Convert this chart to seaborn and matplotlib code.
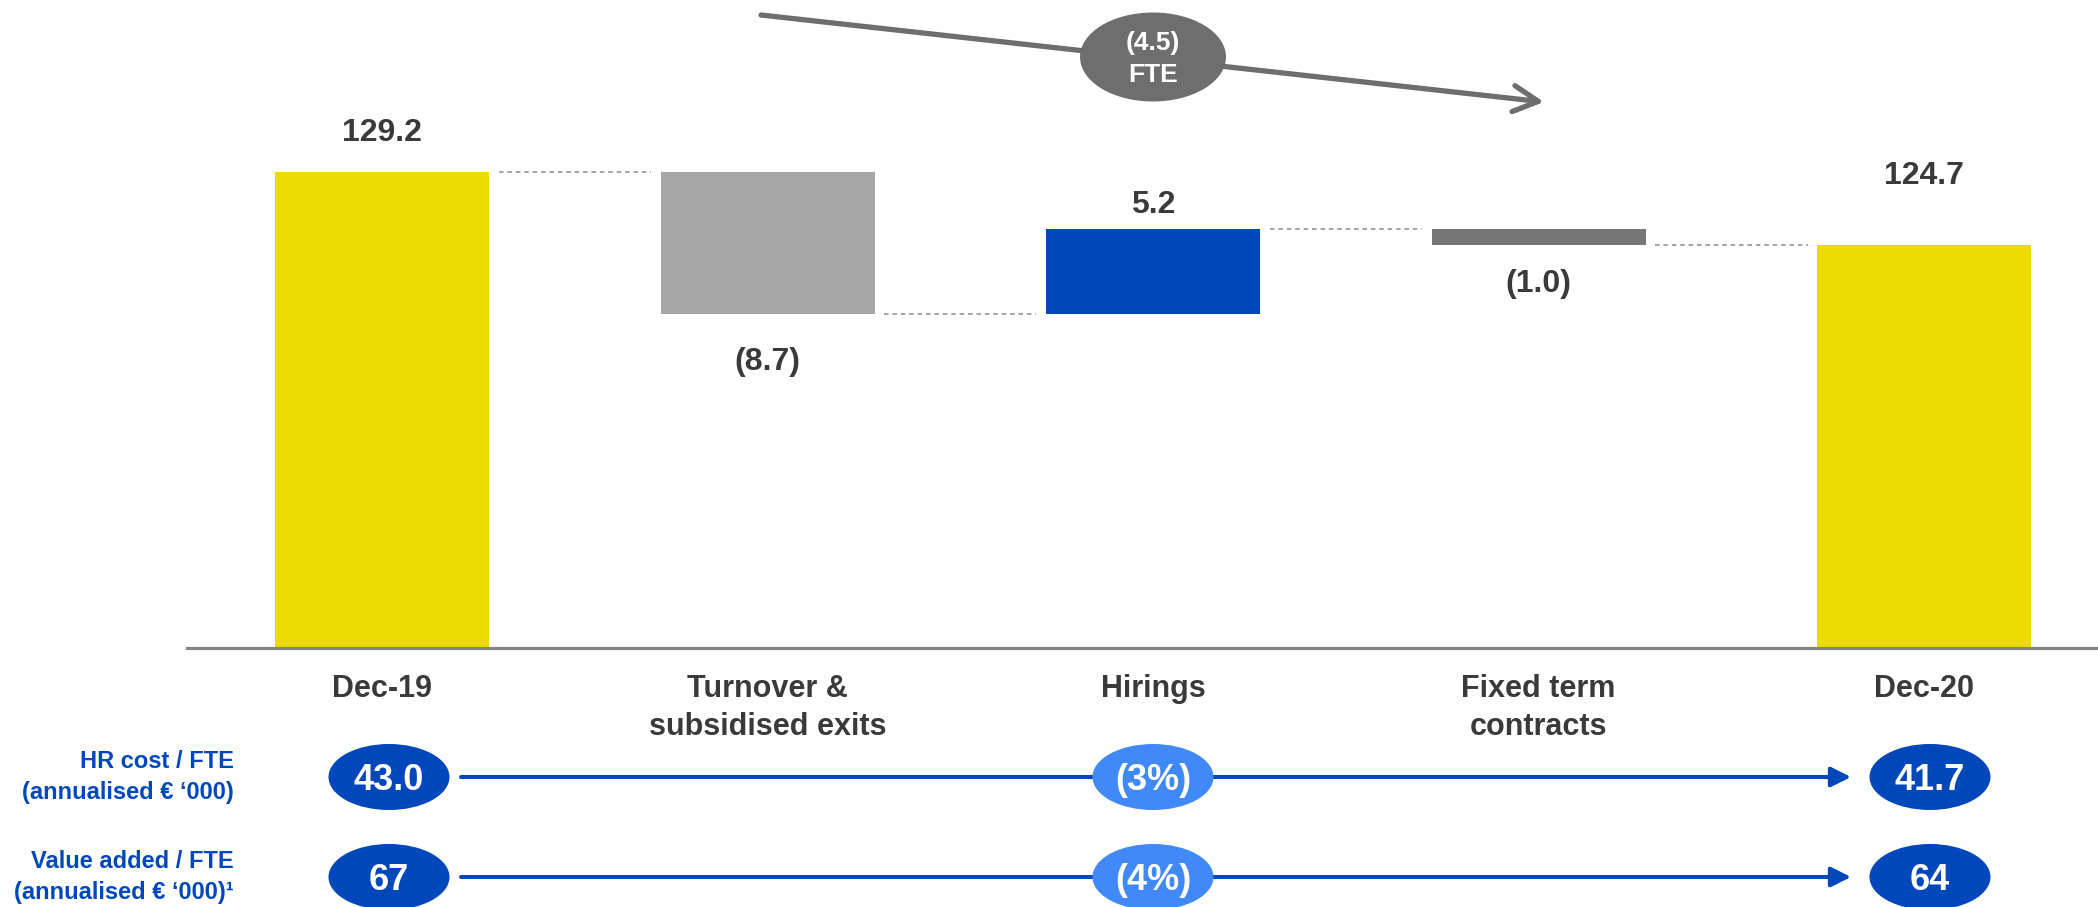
import numpy as np
import pandas as pd
import matplotlib
matplotlib.use("Agg")
import matplotlib.pyplot as plt
import seaborn as sns
from matplotlib.patches import Ellipse

# ---- data -------------------------------------------------------------
categories = ["Dec-19", "Turnover &\nsubsidised exits", "Hirings",
              "Fixed term\ncontracts", "Dec-20"]
start_fte = 129.2
deltas = [-8.7, 5.2, -1.0]
end_fte = 124.7

kpi_names = ["HR cost / FTE\n(annualised € ‘000)",
             "Value added / FTE\n(annualised € ‘000)¹"]
kpi_dec19 = [43.0, 67]
kpi_dec20 = [41.7, 64]
kpi_change_pct = [-3, -4]
kpi_decimals = [1, 0]

# ---- style ------------------------------------------------------------
bar_colors = ["#EDDB00", "#A6A6A6", "#0047BB", "#767676", "#EDDB00"]
label_gap_pt = [28, 35, 17, 28, 50]      # distance of each value label from its bar
TEXT = "#3A3A3A"
DARK_BLUE = "#0047BB"
LIGHT_BLUE = "#4189F8"
ARROW_GREY = "#6E6E6E"

sns.set_theme(style="white")
plt.rcParams["font.family"] = ["Liberation Sans", "DejaVu Sans"]
plt.rcParams["font.weight"] = "bold"

W, H = 2098, 907
fig = plt.figure(figsize=(W / 100, H / 100), dpi=100)
fig.patch.set_facecolor("white")

# ---- waterfall ----------------------------------------------------------
floor = 100.0
levels = np.concatenate([[start_fte], start_fte + np.cumsum(deltas)])
lower = [floor] + [min(a, b) for a, b in zip(levels[:-1], levels[1:])] + [floor]
upper = [start_fte] + [max(a, b) for a, b in zip(levels[:-1], levels[1:])] + [end_fte]
df = pd.DataFrame({"step": categories,
                   "height": np.array(upper) - np.array(lower)})

bar_w = 0.555
px_per_unit = 16.3
ax = fig.add_axes([187 / W, (H - 648) / H, (W - 187) / W, 648 / H])
sns.barplot(data=df, x="step", y="height", order=categories, bottom=lower,
            width=bar_w, color=bar_colors[0], saturation=1, linewidth=0,
            errorbar=None, ax=ax)
for patch, c in zip(ax.patches, bar_colors):
    patch.set_facecolor(c)
    patch.set_edgecolor("none")

ax.set_ylim(floor, floor + 648 / px_per_unit)
ax.set_xlim(-0.506, 4.451)
ax.set_xlabel("")
ax.set_ylabel("")
ax.set_yticks([])
ax.set_xticks(range(len(categories)))
ax.set_xticklabels(categories, fontsize=22, fontweight="bold", color=TEXT,
                   linespacing=1.32)
ax.tick_params(axis="x", length=0, pad=19)
for side in ("left", "top", "right"):
    ax.spines[side].set_visible(False)
ax.spines["bottom"].set_color("#858585")
ax.spines["bottom"].set_linewidth(2.3)

# value labels
values = [start_fte] + deltas + [end_fte]
for i, v in enumerate(values):
    text = f"{v:.1f}" if v >= 0 else f"({abs(v):.1f})"
    if v >= 0:
        anchor, off = upper[i], label_gap_pt[i]
    else:
        anchor, off = lower[i], -label_gap_pt[i]
    ax.annotate(text, xy=(i, anchor), xytext=(0, off),
                textcoords="offset points", ha="center", va="center",
                fontsize=23, fontweight="bold", color=TEXT)

# dashed connectors between consecutive bars
gap = 0.025
for i, lev in enumerate(levels.tolist() + [end_fte]):
    if i >= len(categories) - 1:
        break
    ax.plot([i + bar_w / 2 + gap, i + 1 - bar_w / 2 - gap], [lev, lev],
            color="#8C8C8C", lw=1.1, ls=(0, (3, 2.5)))

# ---- overlay in pixel coordinates ----------------------------------------
ov = fig.add_axes([0, 0, 1, 1], zorder=3)
ov.set_xlim(0, W)
ov.set_ylim(H, 0)
ov.axis("off")
ov.patch.set_alpha(0)

# overall change arrow
ov.annotate("", xy=(1544, 102), xytext=(761, 15),
            arrowprops=dict(arrowstyle="->,head_length=0.9,head_width=0.47",
                            color=ARROW_GREY, lw=3.8, shrinkA=0, shrinkB=0,
                            mutation_scale=20))
ov.add_patch(Ellipse((1153, 57), 146, 89, facecolor=ARROW_GREY,
                     edgecolor="none", zorder=4))
net = end_fte - start_fte
ov.text(1153, 59, f"({abs(net):.1f})\nFTE", ha="center", va="center",
        fontsize=19, fontweight="bold", color="white", linespacing=1.45,
        zorder=5)

# KPI rows
row_y = [777, 877]
x_start, x_mid, x_end = 389, 1153, 1930
for k, y in enumerate(row_y):
    ov.text(234, y, kpi_names[k], ha="right", va="center", fontsize=17,
            fontweight="bold", color=DARK_BLUE, linespacing=1.4)
    ov.annotate("", xy=(1851, y), xytext=(461, y),
                arrowprops=dict(arrowstyle="-|>,head_length=0.6,head_width=0.3",
                                color=DARK_BLUE, lw=2.9, shrinkA=0, shrinkB=0,
                                mutation_scale=20), zorder=3)
    fmt = "{:.%df}" % kpi_decimals[k]
    for x, txt, col in [(x_start, fmt.format(kpi_dec19[k]), DARK_BLUE),
                        (x_mid, f"({abs(kpi_change_pct[k])}%)", LIGHT_BLUE),
                        (x_end, fmt.format(kpi_dec20[k]), DARK_BLUE)]:
        ov.add_patch(Ellipse((x, y), 121, 66, facecolor=col,
                             edgecolor="none", zorder=4))
        ov.text(x, y, txt, ha="center", va="center_baseline", fontsize=26,
                fontweight="bold", color="white", zorder=5)

fig.savefig("out.png", dpi=100, facecolor="white")
